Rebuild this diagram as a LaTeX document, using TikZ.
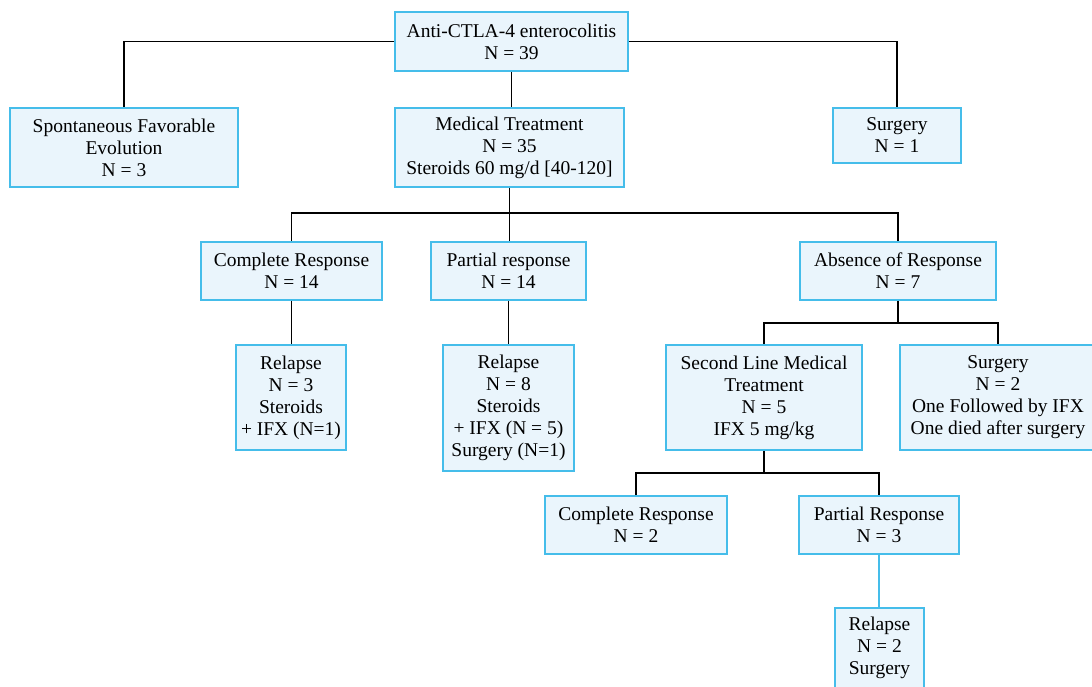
\documentclass[tikz,border=0pt]{standalone}
\usepackage{fontspec}
\setmainfont{Liberation Serif}
\definecolor{boxline}{HTML}{45BDEA}
\definecolor{boxfill}{HTML}{EAF5FC}
\begin{document}
\begin{tikzpicture}[x=1pt,y=-1pt,
  box/.style={draw=boxline, fill=boxfill, line width=1.8pt, rectangle, align=center,
    inner sep=0pt, font=\fontsize{19.5}{22}\selectfont},
  conn/.style={line width=1.8pt, black},
  bconn/.style={line width=1.8pt, boxline}]
\useasboundingbox (0,0) rectangle (1092,686);
\node[box, minimum width=233pt, minimum height=59pt] (top) at (511.5,41.5) {Anti-CTLA-4 enterocolitis\\N = 39};
\node[box, minimum width=228pt, minimum height=79pt] (spont) at (124,147.5) {Spontaneous Favorable\\Evolution\\N = 3};
\node[box, minimum width=229pt, minimum height=79pt] (med) at (509.5,147.5) {Medical Treatment\\N = 35\\Steroids 60 mg/d [40-120]};
\node[box, minimum width=128pt, minimum height=55pt] (surg1) at (897,135.5) {Surgery\\N = 1};
\node[box, minimum width=181pt, minimum height=58pt] (cr) at (291.5,271) {Complete Response\\N = 14};
\node[box, minimum width=155pt, minimum height=58pt] (pr) at (508.5,271) {Partial response\\N = 14};
\node[box, minimum width=196pt, minimum height=58pt] (abs) at (898,271) {Absence of Response\\N = 7};
\node[box, minimum width=110pt, minimum height=105pt] (rel1) at (291,397.5) {Relapse\\N = 3\\Steroids\\+ IFX (N=1)};
\node[box, minimum width=131pt, minimum height=126pt] (rel2) at (508.5,408) {Relapse\\N = 8\\Steroids\\+ IFX (N = 5)\\Surgery (N=1)};
\node[box, minimum width=196pt, minimum height=105pt] (sl) at (764,397.5) {Second Line Medical\\Treatment\\N = 5\\IFX 5 mg/kg};
\node[box, minimum width=196pt, minimum height=105pt] (surg2) at (998,397.5) {Surgery\\N = 2\\One Followed by IFX\\One died after surgery};
\node[box, minimum width=182pt, minimum height=58pt] (cr2) at (636,525) {Complete Response\\N = 2};
\node[box, minimum width=160pt, minimum height=58pt] (pr2) at (879,525) {Partial Response\\N = 3};
\node[box, minimum width=89pt, minimum height=97pt, text depth=0pt] (rel3) at (879.5,656.5) {Relapse\\N = 2\\Surgery\\ \ };
% connectors
\draw[conn] (top.west) -| (spont.north);
\draw[conn] (top.east) -| (surg1.north);
\draw[conn] (top.south) -- (top.south |- med.north);
\coordinate (b1) at (509.5,213);
\draw[conn] (med.south) -- (med.south |- pr.north);
\draw[conn] (cr.north) |- (b1) -| (abs.north);
\draw[conn] (cr.south) -- (cr.south |- rel1.north);
\draw[conn] (pr.south) -- (pr.south |- rel2.north);
\coordinate (b2) at (898,323);
\draw[conn] (abs.south) -- (b2);
\draw[conn] (sl.north) |- (b2) -| (surg2.north);
\coordinate (b3) at (764,473);
\draw[conn] (sl.south) -- (b3);
\draw[conn] (cr2.north) |- (b3) -| (pr2.north);
\draw[bconn] (pr2.south) -- (pr2.south |- rel3.north);
\end{tikzpicture}
\end{document}
